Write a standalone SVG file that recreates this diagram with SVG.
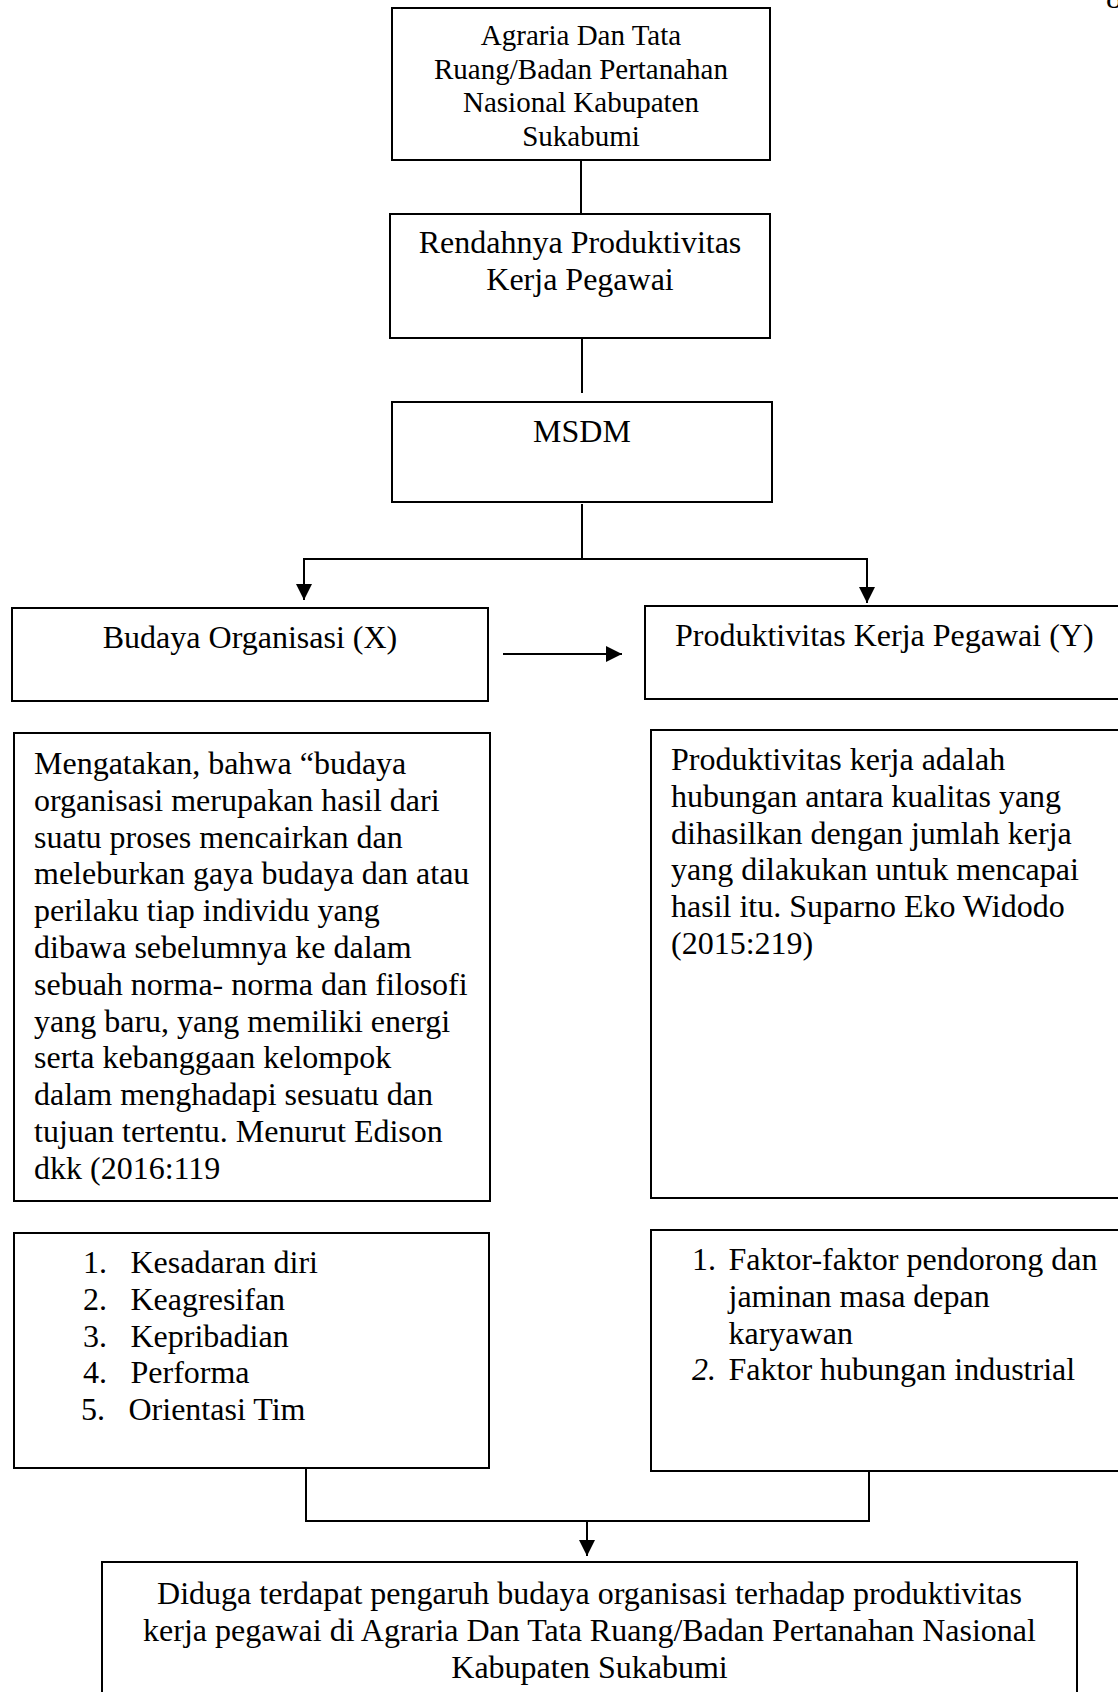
<svg xmlns="http://www.w3.org/2000/svg" width="1118" height="1692" viewBox="0 0 1118 1692">
<style>
.box{fill:#fff;stroke:#000;stroke-width:2}
.t{font-family:"Liberation Serif","Times New Roman",serif;fill:#000;font-size:32px}
.c{text-anchor:middle}
.ln{stroke:#000;stroke-width:2;fill:none}
</style>
<defs>
<marker id="ah" viewBox="0 0 16 16" refX="16" refY="8" markerWidth="16" markerHeight="16" markerUnits="userSpaceOnUse" orient="auto">
<path d="M0,0 L16,8 L0,16 z" fill="#000"/>
</marker>
</defs>
<rect width="1118" height="1692" fill="#fff"/>
<text class="t" x="1106" y="8">8</text>

<g id="connectors">
<line class="ln" x1="581" y1="160" x2="581" y2="214"/>
<line class="ln" x1="582" y1="339" x2="582" y2="393"/>
<line class="ln" x1="582" y1="504" x2="582" y2="559"/>
<line class="ln" x1="303" y1="559" x2="868" y2="559"/>
<line class="ln" x1="304" y1="559" x2="304" y2="600" marker-end="url(#ah)"/>
<line class="ln" x1="867" y1="559" x2="867" y2="603" marker-end="url(#ah)"/>
<line class="ln" x1="503" y1="654" x2="622" y2="654" marker-end="url(#ah)"/>
<line class="ln" x1="306" y1="1468" x2="306" y2="1521"/>
<line class="ln" x1="869" y1="1471" x2="869" y2="1521"/>
<line class="ln" x1="305" y1="1521" x2="870" y2="1521"/>
<line class="ln" x1="587" y1="1521" x2="587" y2="1556" marker-end="url(#ah)"/>
</g>

<g id="node-atr">
<rect class="box" x="392" y="8" width="378" height="152"/>
<text class="t c" style="font-size:29px" x="581" y="45">Agraria Dan Tata</text>
<text class="t c" style="font-size:29px" x="581" y="79">Ruang/Badan Pertanahan</text>
<text class="t c" style="font-size:29px" x="581" y="112">Nasional Kabupaten</text>
<text class="t c" style="font-size:29px" x="581" y="146">Sukabumi</text>
</g>

<g id="node-rendah">
<rect class="box" x="390" y="214" width="380" height="124"/>
<text class="t c" x="580" y="253">Rendahnya Produktivitas</text>
<text class="t c" x="580" y="290">Kerja Pegawai</text>
</g>

<g id="node-msdm">
<rect class="box" x="392" y="402" width="380" height="100"/>
<text class="t c" x="582" y="442">MSDM</text>
</g>

<g id="node-x">
<rect class="box" x="12" y="608" width="476" height="93"/>
<text class="t c" x="250" y="648">Budaya Organisasi (X)</text>
</g>

<g id="node-y">
<rect class="box" x="645" y="606" width="490" height="93"/>
<text class="t" x="675" y="646">Produktivitas Kerja Pegawai (Y)</text>
</g>

<g id="node-x-def">
<rect class="box" x="14" y="733" width="476" height="468"/>
<text class="t" x="34" y="774">Mengatakan, bahwa “budaya</text>
<text class="t" x="34" y="810.8">organisasi merupakan hasil dari</text>
<text class="t" x="34" y="847.6">suatu proses mencairkan dan</text>
<text class="t" x="34" y="884.4">meleburkan gaya budaya dan atau</text>
<text class="t" x="34" y="921.2">perilaku tiap individu yang</text>
<text class="t" x="34" y="958">dibawa sebelumnya ke dalam</text>
<text class="t" x="34" y="994.8">sebuah norma- norma dan filosofi</text>
<text class="t" x="34" y="1031.6">yang baru, yang memiliki energi</text>
<text class="t" x="34" y="1068.4">serta kebanggaan kelompok</text>
<text class="t" x="34" y="1105.2">dalam menghadapi sesuatu dan</text>
<text class="t" x="34" y="1142">tujuan tertentu. Menurut Edison</text>
<text class="t" x="34" y="1178.8">dkk (2016:119</text>
</g>

<g id="node-y-def">
<rect class="box" x="651" y="730" width="490" height="468"/>
<text class="t" x="671" y="770">Produktivitas kerja adalah</text>
<text class="t" x="671" y="806.8">hubungan antara kualitas yang</text>
<text class="t" x="671" y="843.6">dihasilkan dengan jumlah kerja</text>
<text class="t" x="671" y="880.4">yang dilakukan untuk mencapai</text>
<text class="t" x="671" y="917.2">hasil itu. Suparno Eko Widodo</text>
<text class="t" x="671" y="954">(2015:219)</text>
</g>

<g id="node-x-ind">
<rect class="box" x="14" y="1233" width="475" height="235"/>
<text class="t" x="83" y="1273">1.</text><text class="t" x="130.5" y="1273">Kesadaran diri</text>
<text class="t" x="83" y="1309.8">2.</text><text class="t" x="130.5" y="1309.8">Keagresifan</text>
<text class="t" x="83" y="1346.6">3.</text><text class="t" x="130.5" y="1346.6">Kepribadian</text>
<text class="t" x="83" y="1383.4">4.</text><text class="t" x="130.5" y="1383.4">Performa</text>
<text class="t" x="81" y="1420.2">5.</text><text class="t" x="128.5" y="1420.2">Orientasi Tim</text>
</g>

<g id="node-y-ind">
<rect class="box" x="651" y="1230" width="490" height="241"/>
<text class="t" x="692" y="1270">1.</text><text class="t" x="728.5" y="1270">Faktor-faktor pendorong dan</text>
<text class="t" x="728.5" y="1306.8">jaminan masa depan</text>
<text class="t" x="728.5" y="1343.6">karyawan</text>
<text class="t" x="692" y="1380.4" font-style="italic">2.</text><text class="t" x="728.5" y="1380.4">Faktor hubungan industrial</text>
</g>

<g id="node-hyp">
<rect class="box" x="102" y="1562" width="975" height="150"/>
<text class="t c" x="589.5" y="1604">Diduga terdapat pengaruh budaya organisasi terhadap produktivitas</text>
<text class="t c" x="589.5" y="1640.8">kerja pegawai di Agraria Dan Tata Ruang/Badan Pertanahan Nasional</text>
<text class="t c" x="589.5" y="1677.6">Kabupaten Sukabumi</text>
</g>
</svg>
